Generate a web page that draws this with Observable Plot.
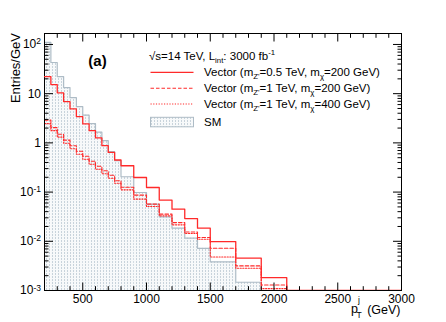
<!DOCTYPE html>
<html><head><meta charset="utf-8">
<script src="https://cdn.jsdelivr.net/npm/d3@7"></script>
<script src="https://cdn.jsdelivr.net/npm/@observablehq/plot@0.6"></script>
<style>
html,body{margin:0;padding:0;background:#fff;}
#chart svg{display:block;}
</style></head><body><div id="chart"></div>
<script>
// ---- data ----
const binEdges = [200,250,300,350,400,450,500,550,600,650,700,750,800,900,1000,1100,1200,1300,1400,1500,1700,1900,2100,3000];
const smValues  = [110, 43, 22.3, 13.3, 8.3, 5.46, 3.66, 2.46, 1.65, 1.11, 0.662, 0.434, 0.205, 0.098, 0.057, 0.0314, 0.0185, 0.0116, 0.0072, 0.0038, 0.00147, 0, 0];
const vec05_200 = [22.3, 15.3, 10.4, 6.9, 4.9, 3.42, 2.43, 1.77, 1.26, 0.877, 0.64, 0.449, 0.343, 0.198, 0.124, 0.0687, 0.045, 0.029, 0.0185, 0.00986, 0.00453, 0.00182, 0];
const vec1_200  = [2.90, 2.04, 1.50, 1.135, 0.877, 0.678, 0.536, 0.424, 0.335, 0.271, 0.220, 0.170, 0.125, 0.0869, 0.057, 0.0356, 0.024, 0.0155, 0.0119, 0.00723, 0.00316, 0.00129, 0];
const vec1_400  = [2.46, 1.77, 1.31, 0.986, 0.762, 0.589, 0.466, 0.368, 0.291, 0.236, 0.191, 0.151, 0.111, 0.072, 0.0509, 0.0329, 0.0216, 0.0144, 0.011, 0.00481, 0.00283, 0.00109, 0];
const xTicksMajor = [500,1000,1500,2000,2500,3000];
const xTickLabels = ["500","1000","1500","2000","2500","3000"];
const yTicksMajor = [1e-3,1e-2,1e-1,1,10,100];
const yTickLabels = ["10^-3","10^-2","10^-1","1","10","10^2"];
const legendLabels = [
  ["Vector (m", "Z'", "=0.5 TeV, m", "χ", "=200 GeV)"],
  ["Vector (m", "Z'", "=1 TeV, m", "χ", "=200 GeV)"],
  ["Vector (m", "Z'", "=1 TeV, m", "χ", "=400 GeV)"]
];

const yMin = 1e-3, yMax = 167;
const RED = "#ff2a2a";
const FONT = "'Liberation Sans', Arial, Helvetica, sans-serif";

const bins = binEdges.slice(0, -1).map((lo, i) => ({
  lo, hi: binEdges[i + 1], sm: smValues[i], a: vec05_200[i], b: vec1_200[i], c: vec1_400[i]
}));
function steps(key) {
  const pts = [];
  for (const b of bins) {
    const v = b[key] > 0 ? b[key] : yMin;
    pts.push({x: b.lo, y: v}, {x: b.hi, y: v});
  }
  return pts;
}
const xMinor = d3.range(200, 3001, 100).filter(v => v % 500 !== 0);
const yMinor = [];
for (let e = -3; e <= 2; e++) for (let k = 2; k <= 9; k++) {
  const v = +(k * Math.pow(10, e)).toPrecision(3);
  if (v <= yMax) yMinor.push(v);
}
const none = () => "";

const plot = Plot.plot({
  width: 446, height: 322,
  marginLeft: 44, marginRight: 45, marginTop: 33, marginBottom: 32,
  x: {domain: [200, 3000], label: null},
  y: {type: "log", domain: [yMin, yMax], label: null},
  style: {fontFamily: FONT, background: "#fff", overflow: "visible", color: "#000"},
  marks: [
    Plot.rectY(bins.filter(b => b.sm > 0), {x1: "lo", x2: "hi", y1: yMin, y2: "sm", fill: "url(#smHatch)"}),
    Plot.line(steps("sm"), {x: "x", y: "y", stroke: "#aebcc6", strokeWidth: 1.2, clip: true}),
    Plot.line(steps("c"), {x: "x", y: "y", stroke: RED, strokeWidth: 1.1, strokeDasharray: "1.2,1.5", clip: true}),
    Plot.line(steps("b"), {x: "x", y: "y", stroke: RED, strokeWidth: 1.1, strokeDasharray: "3.5,2", clip: true}),
    Plot.frame({stroke: "#000", strokeWidth: 1}),
    Plot.line(steps("a"), {x: "x", y: "y", stroke: RED, strokeWidth: 1.3, clip: true}),
    // inward ticks (ROOT style)
    Plot.axisX(xTicksMajor, {anchor: "bottom", tickSize: -7.5, tickFormat: none, label: null}),
    Plot.axisX(xMinor, {anchor: "bottom", tickSize: -3.8, tickFormat: none, label: null}),
    Plot.axisX(xTicksMajor, {anchor: "top", tickSize: -7.5, tickFormat: none, label: null}),
    Plot.axisX(xMinor, {anchor: "top", tickSize: -3.8, tickFormat: none, label: null}),
    Plot.axisY(yTicksMajor, {anchor: "left", tickSize: -9, tickFormat: none, label: null}),
    Plot.axisY(yMinor, {anchor: "left", tickSize: -4.5, tickFormat: none, label: null}),
    Plot.axisY(yTicksMajor, {anchor: "right", tickSize: -9, tickFormat: none, label: null}),
    Plot.axisY(yMinor, {anchor: "right", tickSize: -4.5, tickFormat: none, label: null}),
    // tick labels
    Plot.axisX(xTicksMajor, {anchor: "bottom", tickSize: 0, tickPadding: 3.5, fontSize: 12,
      tickFormat: d => xTickLabels[xTicksMajor.indexOf(d)], label: null}),
    Plot.axisY(yTicksMajor, {anchor: "left", tickSize: 0, tickPadding: 3.5, fontSize: 12,
      tickFormat: d => yTickLabels[yTicksMajor.indexOf(d)], label: null})
  ]
});
document.getElementById("chart").appendChild(plot);

const svg = d3.select(plot);
// hatch pattern for SM
const defs = svg.insert("defs", ":first-child");
const pat = defs.append("pattern").attr("id", "smHatch").attr("patternUnits", "userSpaceOnUse")
  .attr("width", 3).attr("height", 3);
pat.append("rect").attr("width", 3).attr("height", 3).attr("fill", "#f7f9fa");
pat.append("rect").attr("x", 1).attr("y", 0).attr("width", 1).attr("height", 2).attr("fill", "#c8d3db");

// superscripts in y tick labels
svg.selectAll("text").each(function () {
  const t = d3.select(this);
  const s = t.text();
  const m = /^10\^(-?\d+)$/.exec(s);
  if (m) {
    t.text("");
    t.append("tspan").text("10");
    t.append("tspan").attr("dy", "-0.45em").attr("font-size", "8.5px").text(m[1]);
  }
});

// axis titles
const ann = svg.append("g").attr("font-family", FONT).attr("fill", "#000").attr("text-anchor", "start");
ann.append("text").attr("transform", "translate(19.8,33) rotate(-90)").attr("text-anchor", "end")
  .attr("font-size", 13).text("Entries/GeV");
ann.append("text").attr("x", 351).attr("y", 313).attr("font-size", 12.5).text("p");
ann.append("text").attr("x", 358).attr("y", 303).attr("font-size", 8.5).text("j");
ann.append("text").attr("x", 356.5).attr("y", 317.5).attr("font-size", 8.5).text("T");
ann.append("text").attr("x", 400.5).attr("y", 313.5).attr("font-size", 12.5).attr("text-anchor", "end").text("(GeV)");
ann.append("text").attr("x", 97.5).attr("y", 65.5).attr("font-size", 15).attr("font-weight", "bold")
  .attr("text-anchor", "middle").text("(a)");

// legend
const lg = svg.append("g").attr("font-family", FONT).attr("font-size", 11.5).attr("fill", "#000").attr("text-anchor", "start");
const hdr = lg.append("text").attr("x", 149).attr("y", 59.5);
hdr.append("tspan").text("√s=14 TeV, L");
hdr.append("tspan").attr("font-size", 7.8).attr("dy", 3).text("int");
hdr.append("tspan").attr("dy", -3).text(": 3000 fb");
hdr.append("tspan").attr("font-size", 7.8).attr("dy", -4.5).text("-1");

const rowY = [72.3, 88.3, 104];
const dashes = [null, "3.5,2", "1.2,1.5"];
legendLabels.forEach((parts, i) => {
  lg.append("line").attr("x1", 150.5).attr("x2", 193.5).attr("y1", rowY[i]).attr("y2", rowY[i])
    .attr("stroke", RED).attr("stroke-width", i === 0 ? 1.3 : 1.1)
    .attr("stroke-dasharray", dashes[i]);
  const t = lg.append("text").attr("x", 204).attr("y", rowY[i] + 4);
  t.append("tspan").text(parts[0]);
  t.append("tspan").attr("font-size", 7.8).attr("dy", 3).text(parts[1]);
  t.append("tspan").attr("dy", -3).text(parts[2]);
  t.append("tspan").attr("font-size", 7.8).attr("dy", 3).text(parts[3]);
  t.append("tspan").attr("dy", -3).text(parts[4]);
});
lg.append("rect").attr("x", 150.5).attr("y", 117.3).attr("width", 43).attr("height", 9.5)
  .attr("fill", "url(#smHatch)").attr("stroke", "#aebcc6").attr("stroke-width", 1);
lg.append("text").attr("x", 204).attr("y", 125.5).text("SM");
</script>
</body></html>
